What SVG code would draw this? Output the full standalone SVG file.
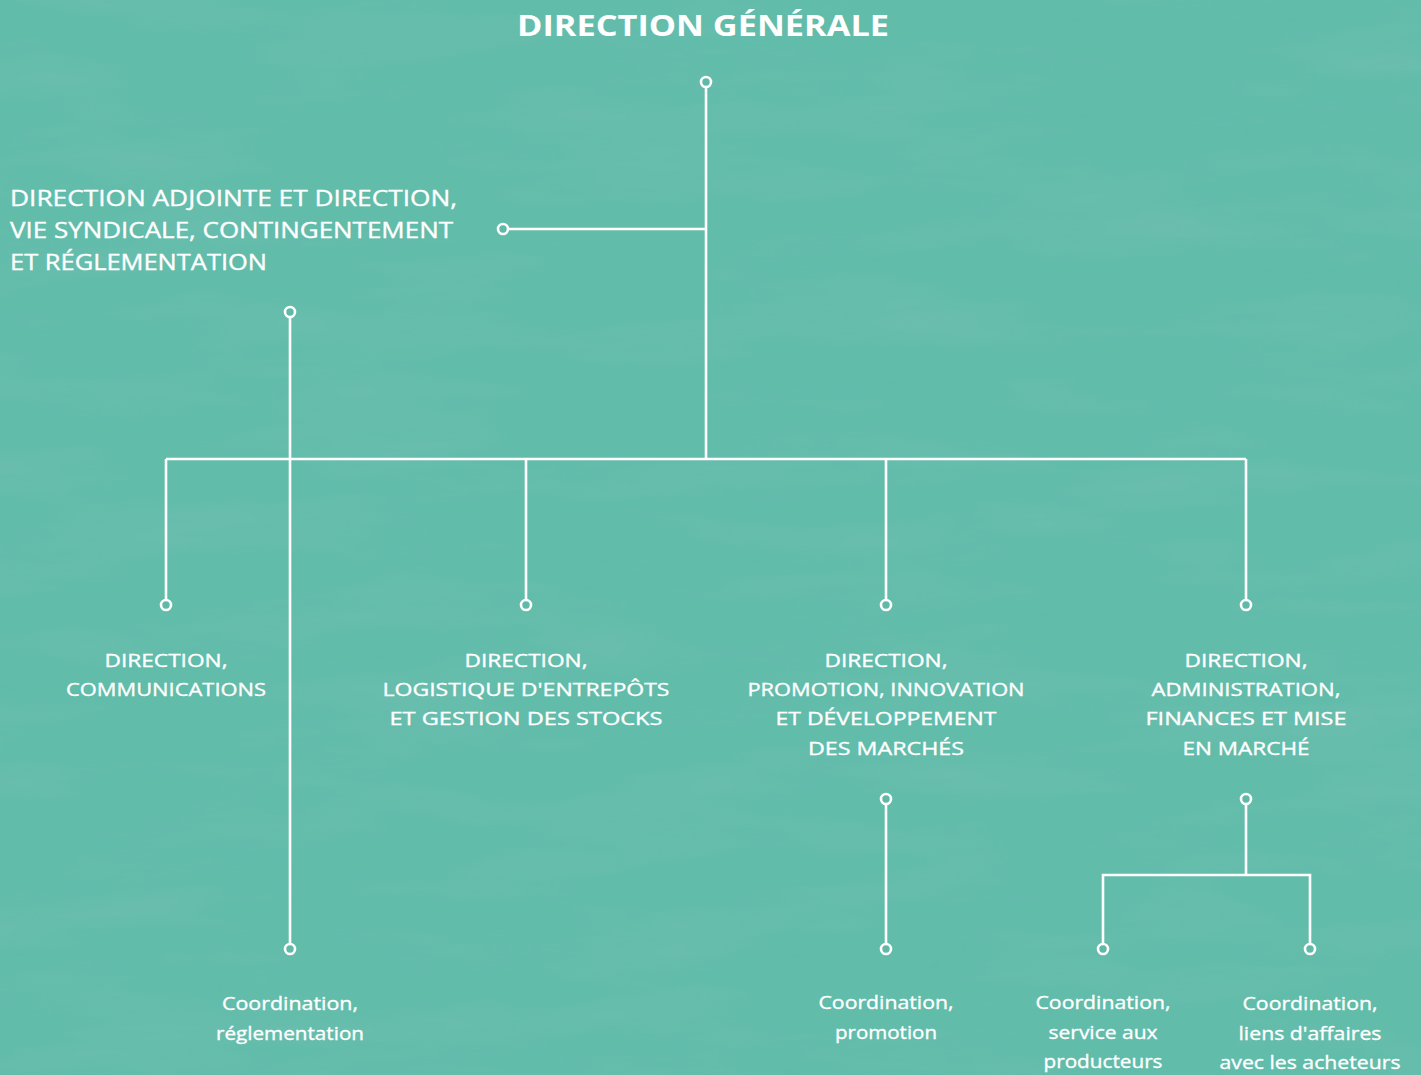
<svg xmlns="http://www.w3.org/2000/svg" width="1421" height="1075" viewBox="0 0 1421 1075">
<defs>
<filter id="tex" x="0" y="0" width="100%" height="100%">
<feTurbulence type="fractalNoise" baseFrequency="0.004 0.02" numOctaves="4" seed="7"/>
<feColorMatrix type="matrix" values="0 0 0 0 0.25  0 0 0 0 0.55  0 0 0 0 0.5  0 0 0 1.4 -0.55"/>
</filter>
<style>
.ln{stroke:#fff;stroke-width:2.6;fill:none}
.dot{stroke:#fff;stroke-width:2.6;fill:#5fb9a8}
.t{font-family:"Open Sans","Liberation Sans",Arial,sans-serif;fill:#fff;stroke:#fff;stroke-width:0.35}
.title{font-size:29px;font-weight:bold;stroke-width:0}
.lead{font-size:22px}
.up{font-size:19px;text-anchor:middle}
.lo{font-size:19px;text-anchor:middle}
</style>
</defs>
<rect width="1421" height="1075" fill="#61bcaa"/>
<rect width="1421" height="1075" filter="url(#tex)" opacity="0.35"/>
<g id="connectors">
<line class="ln" x1="706" y1="87" x2="706" y2="459"/>
<line class="ln" x1="508" y1="229" x2="706" y2="229"/>
<line class="ln" x1="290" y1="317" x2="290" y2="944"/>
<line class="ln" x1="166" y1="459" x2="1246" y2="459"/>
<polyline class="ln" points="166,459 166,600"/>
<polyline class="ln" points="526,459 526,600"/>
<polyline class="ln" points="886,459 886,600"/>
<polyline class="ln" points="1246,459 1246,600"/>
<line class="ln" x1="886" y1="804" x2="886" y2="944"/>
<line class="ln" x1="1246" y1="804" x2="1246" y2="875"/>
<polyline class="ln" points="1103,944 1103,875 1310,875 1310,944"/>
<circle class="dot" cx="706" cy="82" r="5"/>
<circle class="dot" cx="503" cy="229" r="5"/>
<circle class="dot" cx="290" cy="312" r="5"/>
<circle class="dot" cx="290" cy="949" r="5"/>
<circle class="dot" cx="166" cy="605" r="5"/>
<circle class="dot" cx="526" cy="605" r="5"/>
<circle class="dot" cx="886" cy="605" r="5"/>
<circle class="dot" cx="1246" cy="605" r="5"/>
<circle class="dot" cx="886" cy="799" r="5"/>
<circle class="dot" cx="886" cy="949" r="5"/>
<circle class="dot" cx="1246" cy="799" r="5"/>
<circle class="dot" cx="1103" cy="949" r="5"/>
<circle class="dot" cx="1310" cy="949" r="5"/>
</g>
<g id="dg"><text class="t title" x="517" y="36" textLength="372" lengthAdjust="spacingAndGlyphs">DIRECTION GÉNÉRALE</text></g>
<g id="adjointe">
<text class="t lead" x="10" y="206" textLength="447" lengthAdjust="spacingAndGlyphs">DIRECTION ADJOINTE ET DIRECTION,</text>
<text class="t lead" x="10" y="238" textLength="443" lengthAdjust="spacingAndGlyphs">VIE SYNDICALE, CONTINGENTEMENT</text>
<text class="t lead" x="10" y="270" textLength="257" lengthAdjust="spacingAndGlyphs">ET RÉGLEMENTATION</text>
</g>
<g id="communications">
<text class="t up" x="166" y="667" textLength="123" lengthAdjust="spacingAndGlyphs">DIRECTION,</text>
<text class="t up" x="166" y="696" textLength="200" lengthAdjust="spacingAndGlyphs">COMMUNICATIONS</text>
</g>
<g id="logistique">
<text class="t up" x="526" y="667" textLength="123" lengthAdjust="spacingAndGlyphs">DIRECTION,</text>
<text class="t up" x="526" y="696" textLength="287" lengthAdjust="spacingAndGlyphs">LOGISTIQUE D'ENTREPÔTS</text>
<text class="t up" x="526" y="725" textLength="273" lengthAdjust="spacingAndGlyphs">ET GESTION DES STOCKS</text>
</g>
<g id="promotion">
<text class="t up" x="886" y="667" textLength="123" lengthAdjust="spacingAndGlyphs">DIRECTION,</text>
<text class="t up" x="886" y="696" textLength="277" lengthAdjust="spacingAndGlyphs">PROMOTION, INNOVATION</text>
<text class="t up" x="886" y="725" textLength="221" lengthAdjust="spacingAndGlyphs">ET DÉVELOPPEMENT</text>
<text class="t up" x="886" y="755" textLength="156" lengthAdjust="spacingAndGlyphs">DES MARCHÉS</text>
</g>
<g id="administration">
<text class="t up" x="1246" y="667" textLength="123" lengthAdjust="spacingAndGlyphs">DIRECTION,</text>
<text class="t up" x="1246" y="696" textLength="189" lengthAdjust="spacingAndGlyphs">ADMINISTRATION,</text>
<text class="t up" x="1246" y="725" textLength="201" lengthAdjust="spacingAndGlyphs">FINANCES ET MISE</text>
<text class="t up" x="1246" y="755" textLength="127" lengthAdjust="spacingAndGlyphs">EN MARCHÉ</text>
</g>
<g id="coord-reglementation">
<text class="t lo" x="290" y="1010" textLength="136" lengthAdjust="spacingAndGlyphs">Coordination,</text>
<text class="t lo" x="290" y="1040" textLength="148" lengthAdjust="spacingAndGlyphs">réglementation</text>
</g>
<g id="coord-promotion">
<text class="t lo" x="886" y="1009" textLength="135" lengthAdjust="spacingAndGlyphs">Coordination,</text>
<text class="t lo" x="886" y="1039" textLength="102" lengthAdjust="spacingAndGlyphs">promotion</text>
</g>
<g id="coord-producteurs">
<text class="t lo" x="1103" y="1009" textLength="135" lengthAdjust="spacingAndGlyphs">Coordination,</text>
<text class="t lo" x="1103" y="1039" textLength="109" lengthAdjust="spacingAndGlyphs">service aux</text>
<text class="t lo" x="1103" y="1068" textLength="119" lengthAdjust="spacingAndGlyphs">producteurs</text>
</g>
<g id="coord-acheteurs">
<text class="t lo" x="1310" y="1010" textLength="135" lengthAdjust="spacingAndGlyphs">Coordination,</text>
<text class="t lo" x="1310" y="1040" textLength="143" lengthAdjust="spacingAndGlyphs">liens d'affaires</text>
<text class="t lo" x="1310" y="1069" textLength="181" lengthAdjust="spacingAndGlyphs">avec les acheteurs</text>
</g>
</svg>
